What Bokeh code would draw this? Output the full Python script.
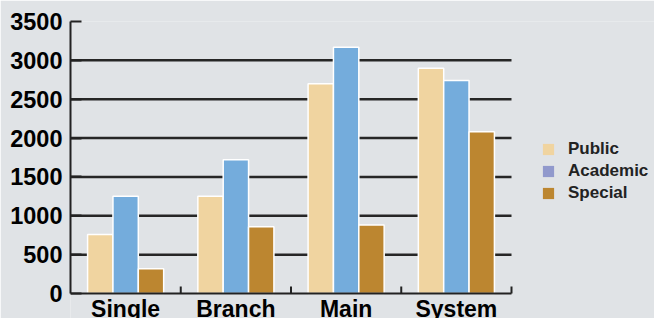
import math
from bokeh.plotting import figure
from bokeh.models import (Range1d, FixedTicker, ColumnDataSource, Legend, LegendItem)
from bokeh.core.properties import value
from bokeh.transform import dodge
from bokeh.embed import file_html
from bokeh.resources import INLINE

categories = ["Single", "Branch", "Main", "System"]
series_names = ["Public", "Academic", "Special"]
public = [760, 1250, 2700, 2900]
academic = [1250, 1720, 3170, 2740]
special = [320, 860, 880, 2080]
y_ticks = [0, 500, 1000, 1500, 2000, 2500, 3000, 3500]
grid_ticks = [500, 1000, 1500, 2000, 2500, 3000]
y_max = 3500

bar_colors = ["#f0d4a0", "#74acdc", "#bc8630"]
legend_colors = ["#f0d4a0", "#9199cc", "#bc8630"]
bg = "#e0e3e6"
font = "Liberation Sans"

# layout (pixels)
W, H = 654, 318
left, top = 70, 21
axis_y_px = 293          # pixel row of value 0
cat_px = 441             # pixel width taken by the categories

n = len(categories)
xs = [i + 0.5 for i in range(n)]
bounds = [float(i) for i in range(n + 1)]
x_end = n * (W - left) / cat_px
y_start = -y_max * (H - axis_y_px) / (axis_y_px - top)

src = ColumnDataSource(dict(x=xs, cat=categories, public=public,
                            academic=academic, special=special))
grid_src = ColumnDataSource(dict(y=grid_ticks, x0=[0] * len(grid_ticks),
                                 x1=[n] * len(grid_ticks)))
bound_src = ColumnDataSource(dict(x=bounds[1:], y=[0] * n))

p = figure(width=W, height=H, x_range=Range1d(0, x_end),
           y_range=Range1d(y_start, y_max), output_backend="svg",
           toolbar_location=None, x_axis_location=None,
           background_fill_color=bg, border_fill_color=bg,
           outline_line_color=None,
           min_border_left=left, min_border_right=0,
           min_border_top=top, min_border_bottom=0)
p.grid.visible = False

# horizontal grid lines, limited to the category span
p.segment(x0="x0", x1="x1", y0="y", y1="y", source=grid_src,
          line_color="#262626", line_width=2.5)

bw = 0.23
offsets = [-0.23, 0.0, 0.23]
fields = ["public", "academic", "special"]

# legend renderers (hidden beneath the bars, legend colours, no outline)
items = []
for name, f, off, c in zip(series_names, fields, offsets, legend_colors):
    r = p.vbar(x=dodge("x", off), top=f, width=bw, source=src,
               fill_color=c, line_color=None)
    items.append(LegendItem(label=name, renderers=[r]))

for f, off, c in zip(fields, offsets, bar_colors):
    p.vbar(x=dodge("x", off), top=f, width=bw, source=src,
           fill_color=c, line_color="white", line_width=1.5)

# x axis line and boundary ticks
p.segment(x0=0, x1=n, y0=0, y1=0, line_color="#222222", line_width=2)
p.ray(x="x", y="y", source=bound_src, length=7, length_units="screen",
      angle=math.pi / 2, line_color="#222222", line_width=2)

# category labels
p.text(x="x", y=0, text="cat", source=src, text_align="center",
       text_baseline="top", y_offset=2, text_font=value(font),
       text_font_style="bold", text_font_size="23px", text_color="#000000")

# y axis
p.yaxis.bounds = (0, y_max)
p.yaxis.ticker = FixedTicker(ticks=y_ticks)
p.yaxis.major_tick_in = 11
p.yaxis.major_tick_out = 0
p.yaxis.minor_tick_line_color = None
p.yaxis.axis_line_width = 2
p.yaxis.axis_line_color = "#222222"
p.yaxis.major_tick_line_width = 2
p.yaxis.major_tick_line_color = "#222222"
p.yaxis.major_label_text_font = font
p.yaxis.major_label_text_font_style = "bold"
p.yaxis.major_label_text_font_size = "23.5px"
p.yaxis.major_label_text_color = "#000000"
p.yaxis.major_label_standoff = 8

legend = Legend(items=items, location=(471, 115), orientation="vertical",
                glyph_width=14, glyph_height=14, label_height=14,
                label_standoff=13, spacing=2, padding=0, margin=0,
                border_line_color=None, background_fill_alpha=0,
                label_text_font=font, label_text_font_style="bold",
                label_text_font_size="17px", label_text_color="#222222")
p.add_layout(legend)

open("out.html", "w").write(file_html(p, INLINE))
